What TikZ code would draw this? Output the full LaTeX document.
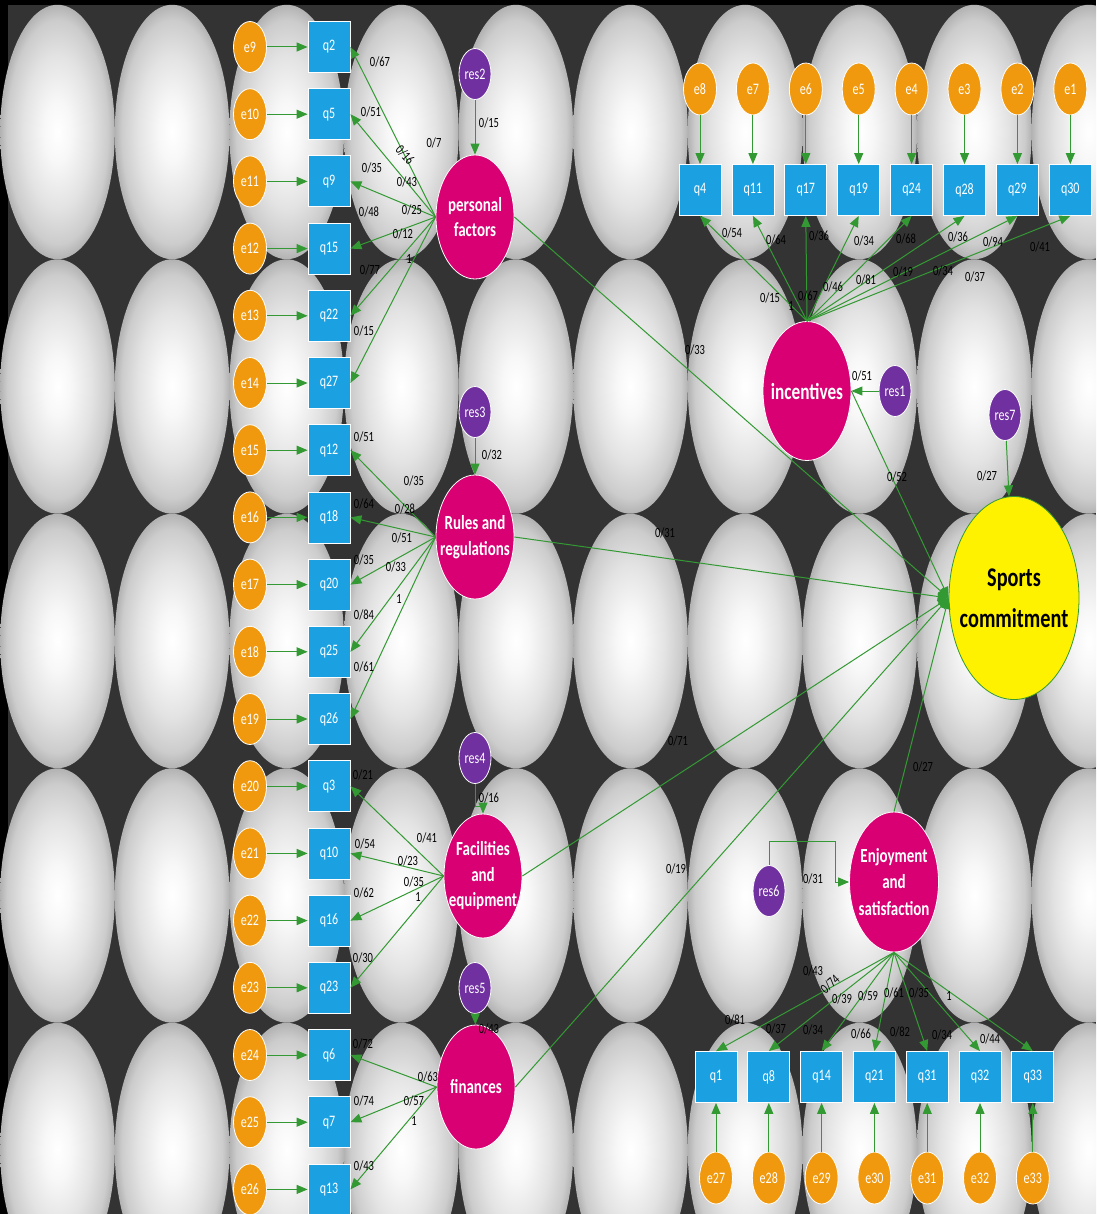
\documentclass[tikz,border=0pt]{standalone}
\usepackage{fontspec}
\setmainfont{Carlito}[FakeStretch=0.75]
\usepackage{tikz}
\usetikzlibrary{shapes,arrows.meta,calc}
\definecolor{errorange}{HTML}{F0990F}
\definecolor{itemblue}{HTML}{1BA1E2}
\definecolor{respurple}{HTML}{7030A0}
\definecolor{factormag}{HTML}{D80073}
\definecolor{pathgreen}{HTML}{339933}
\definecolor{backdark}{HTML}{333333}
\pgfdeclareradialshading{bgoval}{\pgfpoint{0bp}{0bp}}{color(0bp)=(white); color(6bp)=(black!3); color(15bp)=(black!11); color(22bp)=(black!20); color(25bp)=(black!30); color(50bp)=(black!30)}
\newcommand{\ctrline}[1]{\makebox[0pt]{#1}}
\tikzset{
  errvar/.style={ellipse,fill=errorange,draw=white,line width=0.8pt,minimum width=33pt,minimum height=51pt,inner sep=0pt,text=white,font=\fontsize{16}{18}\selectfont},
  resvar/.style={errvar,fill=respurple,minimum width=32pt},
  item/.style={rectangle,fill=itemblue,draw=white,line width=0.8pt,minimum width=42pt,minimum height=51pt,inner sep=0pt,text=white,font=\fontsize{16}{18}\selectfont},
  factor/.style={ellipse,fill=factormag,draw=white,line width=0.8pt,inner sep=0pt,text=white,align=center,minimum width=78pt,minimum height=124pt,font=\bfseries\fontsize{20}{25.5}\selectfont},
  arr/.style={draw=pathgreen,line width=1pt,-{Triangle[length=11pt,width=9pt]}},
  lbl/.style={inner sep=0pt,text=black,font=\fontsize{14}{16}\selectfont}
}
\begin{document}
\begin{tikzpicture}[x=1pt,y=-1pt]
  \useasboundingbox (0,0) rectangle (1096,1214);
  % backdrop of shaded ovals
  \begin{scope}
    \clip (0,0) rectangle (1096,1214);
    \fill[black] (0,0) rectangle (1096,1214);
    \fill[backdark] (8,5) rectangle (1096,1214);
    \foreach \c in {0,...,9}
      \foreach \r in {0,...,4}
        \shade[shading=bgoval] ({57.5+114.6*\c},{132+254.5*\r}) ellipse [x radius=57.3, y radius=127.2];
  \end{scope}

  % measured items with their errors
  \foreach \q [count=\i from 0, evaluate=\i as \yy using 47+67.2*\i, evaluate=\i as \ee using int(9+\i)] in {2,5,9,15,22,27,12,18,20,25,26,3,10,16,23,6,7,13} {
    \node[errvar] (e\ee) at (250,\yy) {e\ee};
    \node[item] (q\q) at (329,\yy) {q\q};
    \draw[arr] (e\ee) -- (q\q);
  }
  \foreach \q [count=\i from 0, evaluate=\i as \xx using 700+52.9*\i, evaluate=\i as \ee using int(8-\i)] in {4,11,17,19,24,28,29,30} {
    \node[errvar,minimum height=52pt] (e\ee) at (\xx,89) {e\ee};
    \node[item] (q\q) at (\xx,190) {q\q};
    \draw[arr] (e\ee) -- (q\q);
  }
  \foreach \q [count=\i from 0, evaluate=\i as \xx using 716+52.8*\i, evaluate=\i as \ee using int(27+\i)] in {1,8,14,21,31,32,33} {
    \node[item] (q\q) at (\xx,1077) {q\q};
    \node[errvar,minimum height=52pt] (e\ee) at (\xx,1178) {e\ee};
    \draw[arr] (e\ee) -- (q\q);
  }

  % latent factors
  \node[factor] (pf) at (475,217) {\ctrline{personal}\\\ctrline{factors}};
  \node[factor] (rr) at (475,537) {\ctrline{Rules and}\\\ctrline{regulations}};
  \node[factor] (fac) at (483,876) {\ctrline{Facilities}\\\ctrline{and}\\\ctrline{equipment}};
  \node[factor] (fin) at (476,1087) {\ctrline{finances}};
  \node[factor,minimum width=88pt,minimum height=139pt,font=\bfseries\fontsize{23}{26}\selectfont] (inc) at (807,391) {\ctrline{incentives}};
  \node[factor,minimum width=89pt,minimum height=140pt,font=\bfseries\fontsize{20}{26.5}\selectfont] (enj) at (894,882) {\ctrline{Enjoyment}\\\ctrline{and}\\\ctrline{satisfaction}};
  \node[factor,fill=yellow,draw=pathgreen,text=black,minimum width=130pt,minimum height=203pt,font=\bfseries\fontsize{27}{41}\selectfont] (sc) at (1014,598) {\ctrline{Sports}\\\ctrline{commitment}};

  % residuals
  \node[resvar] (res2) at (475,74) {res2};
  \node[resvar] (res3) at (475,412) {res3};
  \node[resvar] (res4) at (475,758) {res4};
  \node[resvar] (res5) at (475,988) {res5};
  \node[resvar] (res1) at (895,391) {res1};
  \node[resvar] (res7) at (1005,415) {res7};
  \node[resvar] (res6) at (769,891) {res6};

  \draw[arr] (res2) -- (pf);
  \draw[arr] (res3) -- (rr);
  \draw[arr] (res4.south) -- ++(0,23) -| (fac.north);
  \draw[arr] (res5) -- (fin);
  \draw[arr] (res1) -- (inc);
  \draw[arr] (res7) -- (sc);
  \draw[arr] (res6.north) -- ++(0,-24) -| ([xshift=-14pt]enj.west) -- (enj.west);

  % loadings
  \foreach \q in {2,5,9,15,22,27} \draw[arr] (pf.west) -- (q\q.east);
  \foreach \q in {12,18,20,25,26} \draw[arr] (rr.west) -- (q\q.east);
  \foreach \q in {3,10,16,23} \draw[arr] (fac.west) -- (q\q.east);
  \foreach \q in {6,7,13} \draw[arr] (fin.west) -- (q\q.east);
  \foreach \q in {4,11,17,19,24,28,29,30} \draw[arr] (inc.north) -- (q\q.south);
  \foreach \q in {1,8,14,21,31,32,33} \draw[arr] (enj.south) -- (q\q.north);

  % paths into commitment
  \foreach \f/\a in {pf/east,rr/east,fac/east,fin/east,inc/east,enj/north}
    \draw[arr] (\f.\a) -- (sc.west);

  % estimates
  \foreach \t/\x/\y [count=\n] in {{0/67}/380/62, {0/51}/371/112, {0/35}/372/168, {0/48}/369/212, {0/77}/370/270, {0/15}/364/331, {0/7}/434/143, {0/43}/407/182, {0/25}/412/210, {0/12}/403/234, 1/409/259, {0/15}/489/123,
      {0/32}/492/455, {0/51}/364/437, {0/35}/414/481, {0/64}/364/504, {0/28}/405/509, {0/51}/402/538, {0/35}/364/560, {0/33}/396/567, 1/399/599, {0/84}/364/615, {0/61}/364/667,
      {0/16}/489/798, {0/21}/363/775, {0/41}/427/838, {0/54}/365/844, {0/23}/408/861, {0/35}/414/882, 1/418/897, {0/62}/364/893, {0/30}/363/958,
      {0/43}/489/1029, {0/72}/363/1044, {0/63}/428/1077, {0/74}/364/1101, {0/57}/414/1101, 1/414/1121, {0/43}/364/1166,
      {0/54}/732/233, {0/64}/776/240, {0/36}/819/236, {0/34}/864/241, {0/68}/906/239, {0/36}/958/237, {0/94}/993/242, {0/41}/1040/247,
      {0/15}/770/298, 1/791/306, {0/67}/808/296, {0/46}/833/287, {0/81}/866/280, {0/19}/903/272, {0/34}/943/271, {0/37}/975/277,
      {0/33}/695/350, {0/51}/862/376, {0/52}/897/477, {0/27}/987/476, {0/31}/665/533, {0/71}/678/741, {0/19}/676/869, {0/27}/923/767, {0/31}/813/879,
      {0/43}/813/971, {0/39}/842/999, {0/59}/868/996, {0/61}/894/993, {0/35}/919/993, 1/949/996,
      {0/81}/735/1020, {0/37}/776/1029, {0/34}/813/1030, {0/66}/861/1034, {0/82}/900/1032, {0/34}/942/1035, {0/44}/990/1039}
    \node[lbl] (lab\n) at (\x,\y) {\t};
  \node[lbl,rotate=-48] (labpf) at (405,155) {0/16};
  \node[lbl,rotate=42] (labenj) at (830,984) {0/74};
\end{tikzpicture}
\end{document}
